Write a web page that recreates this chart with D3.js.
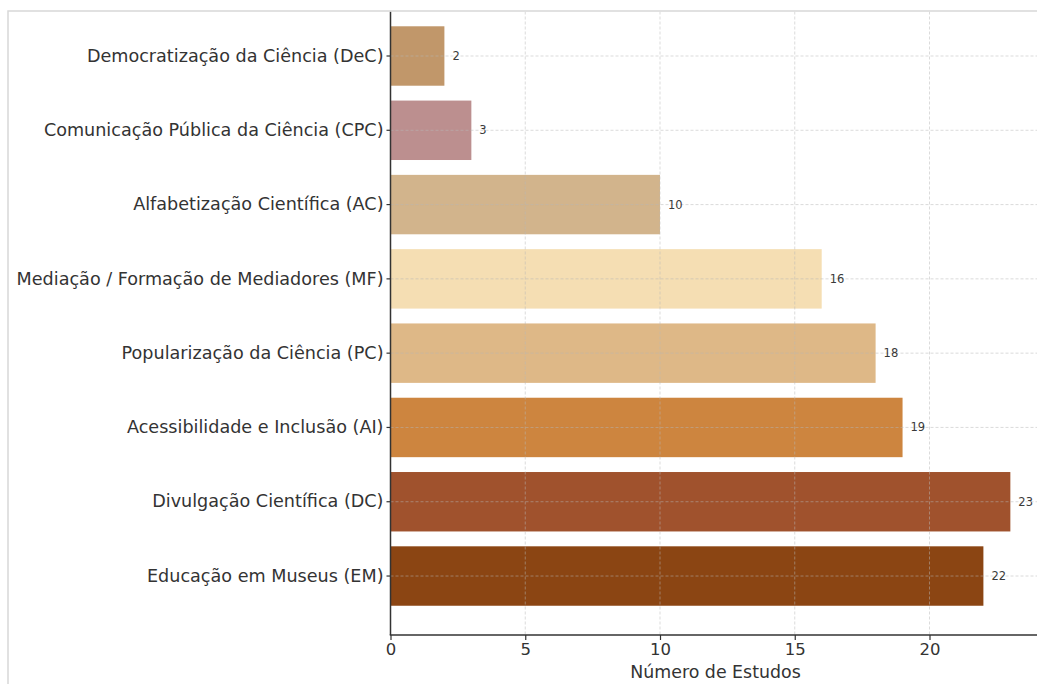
<!DOCTYPE html>
<html>
<head>
<meta charset="utf-8">
<script src="https://cdn.jsdelivr.net/npm/d3@7"></script>
<style>
  html, body { margin: 0; padding: 0; background: #fff; }
  svg { display: block; font-family: "DejaVu Sans", sans-serif; }
</style>
</head>
<body>
<svg id="chart" width="1037" height="684"></svg>
<script>
// Number of studies per thematic category (top to bottom)
const categories = [
  "Democratização da Ciência (DeC)",
  "Comunicação Pública da Ciência (CPC)",
  "Alfabetização Científica (AC)",
  "Mediação / Formação de Mediadores (MF)",
  "Popularização da Ciência (PC)",
  "Acessibilidade e Inclusão (AI)",
  "Divulgação Científica (DC)",
  "Educação em Museus (EM)"
];
const counts = [2, 3, 10, 16, 18, 19, 23, 22];
const barColors = ["#c1976a", "#bc8f8f", "#d2b48c", "#f5deb3", "#deb887", "#cd853f", "#a0522d", "#8b4513"];
const xTicks = [0, 5, 10, 15, 20];
const xLabel = "Número de Estudos";

const svg = d3.select("#chart");
const W = 1037, H = 684;

// axes geometry
const plotLeft = 390.5, plotBottom = 635, plotTopVisible = 11.5;
const xMax = d3.max(counts) * 1.05;
const x = d3.scaleLinear().domain([0, xMax]).range([plotLeft, plotLeft + xMax * 26.95]);
const step = 74.29;
const y = d3.scaleBand()
  .domain(categories)
  .range([56 - step / 2, 56 + step * 7.5])
  .paddingInner(0.2)
  .paddingOuter(0.1);

svg.append("defs").append("clipPath").attr("id", "plotClip")
  .append("rect")
  .attr("x", plotLeft).attr("y", plotTopVisible)
  .attr("width", W - plotLeft).attr("height", plotBottom - plotTopVisible);

const plot = svg.append("g").attr("clip-path", "url(#plotClip)");

// bars
plot.selectAll("rect.bar")
  .data(categories)
  .join("rect")
  .attr("class", "bar")
  .attr("x", x(0))
  .attr("y", d => y(d))
  .attr("width", (d, i) => x(counts[i]) - x(0))
  .attr("height", y.bandwidth())
  .attr("fill", (d, i) => barColors[i]);

// dashed grid on top of the bars
const grid = plot.append("g")
  .attr("stroke", "#b8b8b8")
  .attr("stroke-opacity", 0.5)
  .attr("stroke-width", 1)
  .attr("stroke-dasharray", "3,2");
grid.selectAll("line.vx")
  .data(xTicks.filter(t => t > 0))
  .join("line")
  .attr("x1", d => x(d)).attr("x2", d => x(d))
  .attr("y1", plotTopVisible).attr("y2", plotBottom);
grid.selectAll("line.hy")
  .data(categories)
  .join("line")
  .attr("x1", plotLeft).attr("x2", W)
  .attr("y1", d => y(d) + y.bandwidth() / 2)
  .attr("y2", d => y(d) + y.bandwidth() / 2);

// value labels
svg.append("g").selectAll("text")
  .data(categories)
  .join("text")
  .attr("x", (d, i) => x(counts[i]) + 8)
  .attr("y", d => y(d) + y.bandwidth() / 2)
  .attr("dy", "0.35em")
  .attr("font-size", 11.5)
  .attr("fill", "#3a3a3a")
  .text((d, i) => counts[i]);

// left axis
const yAxis = svg.append("g")
  .attr("transform", `translate(${plotLeft},0)`)
  .call(d3.axisLeft(y).tickSize(4).tickPadding(3));
yAxis.select(".domain").remove();
yAxis.selectAll(".tick line").attr("stroke", "#333").attr("stroke-width", 1.2);
yAxis.selectAll(".tick text")
  .attr("font-size", 17.6)
  .attr("fill", "#333")
  .attr("font-family", "DejaVu Sans, sans-serif");
svg.append("line")
  .attr("x1", plotLeft).attr("x2", plotLeft)
  .attr("y1", plotTopVisible).attr("y2", plotBottom)
  .attr("stroke", "#333").attr("stroke-width", 1.5);

// bottom axis
const xAxis = svg.append("g")
  .attr("transform", `translate(0,${plotBottom})`)
  .call(d3.axisBottom(x).tickValues(xTicks).tickSize(5).tickPadding(3));
xAxis.select(".domain").remove();
xAxis.selectAll(".tick line").attr("stroke", "#333").attr("stroke-width", 1.2);
xAxis.selectAll(".tick text")
  .attr("font-size", 16.5)
  .attr("fill", "#333")
  .attr("font-family", "DejaVu Sans, sans-serif");
svg.append("line")
  .attr("x1", plotLeft - 0.75).attr("x2", W)
  .attr("y1", plotBottom).attr("y2", plotBottom)
  .attr("stroke", "#333").attr("stroke-width", 1.5);

svg.append("text")
  .attr("x", 715.5)
  .attr("y", 678)
  .attr("text-anchor", "middle")
  .attr("font-size", 17.4)
  .attr("fill", "#333")
  .text(xLabel);

// outer frame
svg.append("path")
  .attr("d", `M8,${H} L8,11 L${W},11`)
  .attr("fill", "none")
  .attr("stroke", "#d8d8d8")
  .attr("stroke-width", 1.5);
</script>
</body>
</html>
